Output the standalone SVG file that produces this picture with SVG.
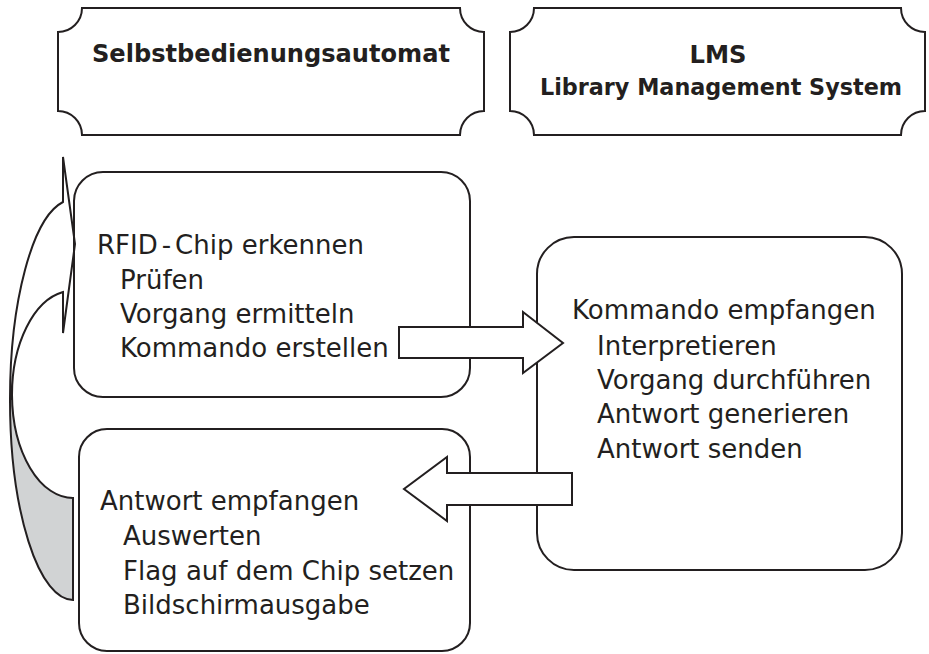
<svg xmlns="http://www.w3.org/2000/svg" width="929" height="654" viewBox="0 0 929 654">
<style>
.ln{fill:none;stroke:#231f20;stroke-width:2;stroke-linejoin:miter}
.box{fill:#fff;stroke:#231f20;stroke-width:2}
.arr{fill:#fff;stroke:#231f20;stroke-width:2;stroke-linejoin:miter}
.gray{fill:#d1d3d4;stroke:#231f20;stroke-width:2}
.h{font-family:"DejaVu Sans","Liberation Sans",sans-serif;font-weight:bold;fill:#231f20;text-anchor:middle}
.t{font-family:"DejaVu Sans","Liberation Sans",sans-serif;font-size:26px;fill:#231f20}
</style>
<rect width="929" height="654" fill="#fff"/>
<g id="header-automat">
<path class="box" d="M82,8 H460 A24 24 0 0 0 484,32 V111 A24 24 0 0 0 460,135 H82 A24 24 0 0 0 58,111 V32 A24 24 0 0 0 82,8 Z"/>
<text class="h" x="271" y="62" font-size="25" textLength="358" lengthAdjust="spacingAndGlyphs">Selbstbedienungsautomat</text>
</g>
<g id="header-lms">
<path class="box" d="M534,8 H901 A24 24 0 0 0 925,32 V111 A24 24 0 0 0 901,135 H534 A24 24 0 0 0 510,111 V32 A24 24 0 0 0 534,8 Z"/>
<text class="h" x="718" y="63" font-size="25" textLength="57" lengthAdjust="spacingAndGlyphs">LMS</text>
<text class="h" x="721" y="95" font-size="23" textLength="362" lengthAdjust="spacingAndGlyphs">Library Management System</text>
</g>
<g id="box-automat-send">
<rect class="box" x="74" y="172" width="396" height="225" rx="29"/>
<text class="t" x="97" y="254"><tspan>RFID</tspan><tspan dx="4">-</tspan><tspan dx="4">Chip erkennen</tspan></text>
<text class="t" x="120" y="289">Prüfen</text>
<text class="t" x="120" y="323">Vorgang ermitteln</text>
<text class="t" x="120" y="357">Kommando erstellen</text>
</g>
<g id="box-lms">
<rect class="box" x="537" y="237" width="365" height="333" rx="37"/>
<text class="t" x="572" y="319">Kommando empfangen</text>
<text class="t" x="597" y="355">Interpretieren</text>
<text class="t" x="597" y="389">Vorgang durchführen</text>
<text class="t" x="597" y="423">Antwort generieren</text>
<text class="t" x="597" y="458">Antwort senden</text>
</g>
<g id="box-automat-receive">
<rect class="box" x="79" y="429" width="391" height="222" rx="28"/>
<text class="t" x="100" y="510">Antwort empfangen</text>
<text class="t" x="123" y="545">Auswerten</text>
<text class="t" x="123" y="580">Flag auf dem Chip setzen</text>
<text class="t" x="123" y="614">Bildschirmausgabe</text>
</g>
<g id="connectors">
<path class="arr" d="M399,327 H523 V312 L563,343 L523,373 V358 H399 Z"/>
<path class="arr" d="M572,473 H447 V457 L404,489 L447,521 V505 H572 Z"/>
<path class="gray" d="M73,498 A61 104 0 0 1 12,395 L10,400 A63 200 0 0 0 73,600 Z"/>
<path class="ln" d="M63,157 L75,244 L63,333 V292 A61 104 0 0 0 12,395 L10,400 A63 200 0 0 1 63,202 Z"/>
</g>
</svg>
